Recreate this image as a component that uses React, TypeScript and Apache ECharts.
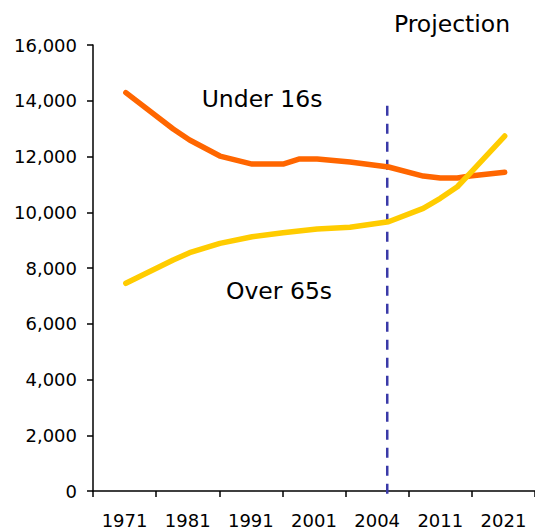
import React, { useEffect, useRef } from "react";
import * as echarts from "echarts";

const tickLabels = ["1971", "1981", "1991", "2001", "2004", "2011", "2021"];
// positions along the category axis (in band units) of each data vertex
const positions = [0.52, 1.27, 1.53, 2.01, 2.52, 3.01, 3.26, 3.55, 4.07, 4.68, 5.23, 5.5, 5.77, 5.97, 6.52];
const under16s = [14290, 12985, 12590, 12016, 11729, 11729, 11909, 11909, 11801, 11622, 11299, 11227, 11227, 11299, 11432];
const over65s = [7450, 8286, 8548, 8885, 9122, 9265, 9326, 9398, 9459, 9660, 10140, 10499, 10915, 11396, 12734];
const projectionStart = 4.66;
const projectionLine = [-100, 14000];

export default function App() {
  const ref = useRef<HTMLDivElement>(null);
  useEffect(() => {
    document.body.style.margin = "0";
    const chart = echarts.init(ref.current!, undefined, { renderer: "svg" });
    const font = "'DejaVu Sans', Verdana, sans-serif";
    chart.setOption({
      animation: false,
      backgroundColor: "#ffffff",
      textStyle: { fontFamily: font },
      grid: { left: 93, right: 0, top: 45, bottom: 39 },
      xAxis: [
        {
          type: "category",
          data: tickLabels,
          boundaryGap: true,
          axisLine: { lineStyle: { color: "#000", width: 1.5 } },
          axisTick: { show: true, length: 6, inside: false, lineStyle: { color: "#000", width: 1.5 } },
          axisLabel: { color: "#000", fontSize: 18, fontFamily: font, margin: 20, interval: 0 },
          splitLine: { show: false },
        },
        {
          type: "value",
          min: 0,
          max: 7,
          show: false,
          splitLine: { show: false },
        },
      ],
      yAxis: {
        type: "value",
        min: 0,
        max: 16000,
        interval: 2000,
        axisLine: { show: true, lineStyle: { color: "#000", width: 1.5 } },
        axisTick: { show: true, length: 6, lineStyle: { color: "#000", width: 1.5 } },
        axisLabel: {
          color: "#000",
          fontSize: 18,
          fontFamily: font,
          margin: 16,
          formatter: (v: number) => v.toLocaleString("en-US"),
        },
        splitLine: { show: false },
      },
      series: [
        {
          type: "line",
          name: "Under 16s",
          xAxisIndex: 1,
          data: positions.map((p, i) => [p, under16s[i]]),
          showSymbol: false,
          lineStyle: { color: "#ff6600", width: 5.5, cap: "round", join: "round" },
          z: 3,
        },
        {
          type: "line",
          name: "Over 65s",
          xAxisIndex: 1,
          data: positions.map((p, i) => [p, over65s[i]]),
          showSymbol: false,
          lineStyle: { color: "#ffcc00", width: 5.5, cap: "round", join: "round" },
          z: 4,
        },
        {
          type: "line",
          name: "Projection",
          xAxisIndex: 1,
          clip: false,
          data: projectionLine.map((v) => [projectionStart, v]),
          showSymbol: false,
          lineStyle: { color: "#3a3aa8", width: 2.5, type: [10, 8] },
          z: 2,
        },
      ],
      graphic: [
        {
          type: "text",
          x: 262,
          y: 99,
          style: { text: "Under 16s", fontSize: 23.5, fontFamily: font, fill: "#000", align: "center", verticalAlign: "middle" },
        },
        {
          type: "text",
          x: 279,
          y: 291,
          style: { text: "Over 65s", fontSize: 23.5, fontFamily: font, fill: "#000", align: "center", verticalAlign: "middle" },
        },
        {
          type: "text",
          x: 452,
          y: 24,
          style: { text: "Projection", fontSize: 23.5, fontFamily: font, fill: "#000", align: "center", verticalAlign: "middle" },
        },
      ],
    });
    return () => chart.dispose();
  }, []);
  return <div ref={ref} style={{ width: 535, height: 530 }} />;
}
